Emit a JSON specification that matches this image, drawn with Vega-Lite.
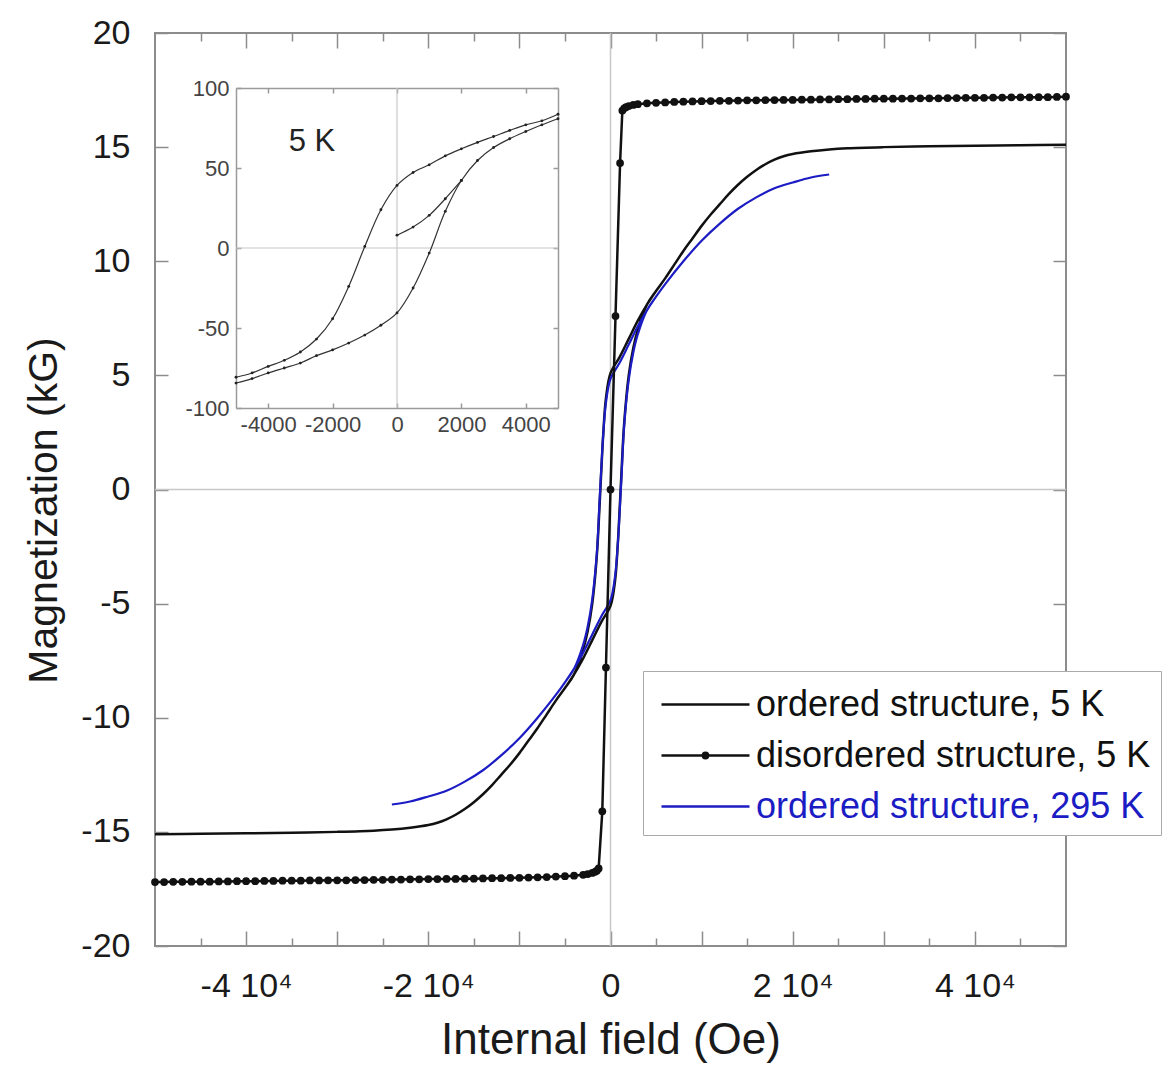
{
 "$schema": "https://vega.github.io/schema/vega-lite/v6.json",
 "width": 911, "height": 913,
 "autosize": {"type": "none"},
 "padding": {"left": 155, "top": 33, "right": 105, "bottom": 119},
 "background": "white",
 "datasets": {
  "main": [
   {"s":"o5","o":0,"x":50000,"y":15.1},{"s":"o5","o":1,"x":45000,"y":15.08},{"s":"o5","o":2,"x":40000,"y":15.06},{"s":"o5","o":3,"x":35000,"y":15.04},{"s":"o5","o":4,"x":30000,"y":15.0},{"s":"o5","o":5,"x":26000,"y":14.95},{"s":"o5","o":6,"x":24000,"y":14.9},{"s":"o5","o":7,"x":22000,"y":14.82},{"s":"o5","o":8,"x":20000,"y":14.7},{"s":"o5","o":9,"x":19000,"y":14.6},{"s":"o5","o":10,"x":18000,"y":14.45},{"s":"o5","o":11,"x":17000,"y":14.25},{"s":"o5","o":12,"x":16000,"y":14.0},{"s":"o5","o":13,"x":15000,"y":13.7},{"s":"o5","o":14,"x":14000,"y":13.35},{"s":"o5","o":15,"x":13000,"y":12.95},{"s":"o5","o":16,"x":12000,"y":12.5},{"s":"o5","o":17,"x":11000,"y":12.05},{"s":"o5","o":18,"x":10000,"y":11.55},{"s":"o5","o":19,"x":9000,"y":11.0},{"s":"o5","o":20,"x":8000,"y":10.45},{"s":"o5","o":21,"x":7000,"y":9.85},{"s":"o5","o":22,"x":6000,"y":9.25},{"s":"o5","o":23,"x":5000,"y":8.7},{"s":"o5","o":24,"x":4000,"y":8.1},{"s":"o5","o":25,"x":3000,"y":7.4},{"s":"o5","o":26,"x":2000,"y":6.6},{"s":"o5","o":27,"x":1000,"y":5.8},{"s":"o5","o":28,"x":0,"y":5.1},{"s":"o5","o":29,"x":-500,"y":4.0},{"s":"o5","o":30,"x":-800,"y":2.4},{"s":"o5","o":31,"x":-1000,"y":0.9},{"s":"o5","o":32,"x":-1200,"y":-0.7},{"s":"o5","o":33,"x":-1500,"y":-2.9},{"s":"o5","o":34,"x":-2000,"y":-5.0},{"s":"o5","o":35,"x":-2500,"y":-6.2},{"s":"o5","o":36,"x":-3000,"y":-7.0},{"s":"o5","o":37,"x":-4000,"y":-8.1},{"s":"o5","o":38,"x":-5000,"y":-8.7},{"s":"o5","o":39,"x":-6000,"y":-9.25},{"s":"o5","o":40,"x":-7000,"y":-9.85},{"s":"o5","o":41,"x":-8000,"y":-10.45},{"s":"o5","o":42,"x":-9000,"y":-11.0},{"s":"o5","o":43,"x":-10000,"y":-11.55},{"s":"o5","o":44,"x":-11000,"y":-12.05},{"s":"o5","o":45,"x":-12000,"y":-12.5},{"s":"o5","o":46,"x":-13000,"y":-12.95},{"s":"o5","o":47,"x":-14000,"y":-13.35},{"s":"o5","o":48,"x":-15000,"y":-13.7},{"s":"o5","o":49,"x":-16000,"y":-14.0},{"s":"o5","o":50,"x":-17000,"y":-14.25},{"s":"o5","o":51,"x":-18000,"y":-14.45},{"s":"o5","o":52,"x":-19000,"y":-14.6},{"s":"o5","o":53,"x":-20000,"y":-14.7},{"s":"o5","o":54,"x":-22000,"y":-14.82},{"s":"o5","o":55,"x":-24000,"y":-14.9},{"s":"o5","o":56,"x":-26000,"y":-14.95},{"s":"o5","o":57,"x":-30000,"y":-15.0},{"s":"o5","o":58,"x":-35000,"y":-15.04},{"s":"o5","o":59,"x":-40000,"y":-15.06},{"s":"o5","o":60,"x":-45000,"y":-15.08},{"s":"o5","o":61,"x":-50000,"y":-15.1},
   {"s":"o5","o":62,"x":-45000,"y":-15.08},{"s":"o5","o":63,"x":-40000,"y":-15.06},{"s":"o5","o":64,"x":-35000,"y":-15.04},{"s":"o5","o":65,"x":-30000,"y":-15.0},{"s":"o5","o":66,"x":-26000,"y":-14.95},{"s":"o5","o":67,"x":-24000,"y":-14.9},{"s":"o5","o":68,"x":-22000,"y":-14.82},{"s":"o5","o":69,"x":-20000,"y":-14.7},{"s":"o5","o":70,"x":-19000,"y":-14.6},{"s":"o5","o":71,"x":-18000,"y":-14.45},{"s":"o5","o":72,"x":-17000,"y":-14.25},{"s":"o5","o":73,"x":-16000,"y":-14.0},{"s":"o5","o":74,"x":-15000,"y":-13.7},{"s":"o5","o":75,"x":-14000,"y":-13.35},{"s":"o5","o":76,"x":-13000,"y":-12.95},{"s":"o5","o":77,"x":-12000,"y":-12.5},{"s":"o5","o":78,"x":-11000,"y":-12.05},{"s":"o5","o":79,"x":-10000,"y":-11.55},{"s":"o5","o":80,"x":-9000,"y":-11.0},{"s":"o5","o":81,"x":-8000,"y":-10.45},{"s":"o5","o":82,"x":-7000,"y":-9.85},{"s":"o5","o":83,"x":-6000,"y":-9.25},{"s":"o5","o":84,"x":-5000,"y":-8.7},{"s":"o5","o":85,"x":-4000,"y":-8.1},{"s":"o5","o":86,"x":-3000,"y":-7.4},{"s":"o5","o":87,"x":-2000,"y":-6.6},{"s":"o5","o":88,"x":-1000,"y":-5.8},{"s":"o5","o":89,"x":0,"y":-5.1},{"s":"o5","o":90,"x":500,"y":-4.0},{"s":"o5","o":91,"x":800,"y":-2.4},{"s":"o5","o":92,"x":1000,"y":-0.9},{"s":"o5","o":93,"x":1200,"y":0.7},{"s":"o5","o":94,"x":1500,"y":2.9},{"s":"o5","o":95,"x":2000,"y":5.0},{"s":"o5","o":96,"x":2500,"y":6.2},{"s":"o5","o":97,"x":3000,"y":7.0},{"s":"o5","o":98,"x":4000,"y":8.1},{"s":"o5","o":99,"x":5000,"y":8.7},{"s":"o5","o":100,"x":6000,"y":9.25},{"s":"o5","o":101,"x":7000,"y":9.85},{"s":"o5","o":102,"x":8000,"y":10.45},{"s":"o5","o":103,"x":9000,"y":11.0},{"s":"o5","o":104,"x":10000,"y":11.55},{"s":"o5","o":105,"x":11000,"y":12.05},{"s":"o5","o":106,"x":12000,"y":12.5},{"s":"o5","o":107,"x":13000,"y":12.95},{"s":"o5","o":108,"x":14000,"y":13.35},{"s":"o5","o":109,"x":15000,"y":13.7},{"s":"o5","o":110,"x":16000,"y":14.0},{"s":"o5","o":111,"x":17000,"y":14.25},{"s":"o5","o":112,"x":18000,"y":14.45},{"s":"o5","o":113,"x":19000,"y":14.6},{"s":"o5","o":114,"x":20000,"y":14.7},{"s":"o5","o":115,"x":22000,"y":14.82},{"s":"o5","o":116,"x":24000,"y":14.9},{"s":"o5","o":117,"x":26000,"y":14.95},{"s":"o5","o":118,"x":30000,"y":15.0},{"s":"o5","o":119,"x":35000,"y":15.04},{"s":"o5","o":120,"x":40000,"y":15.06},{"s":"o5","o":121,"x":45000,"y":15.08},{"s":"o5","o":122,"x":50000,"y":15.1},
   {"s":"o295","o":0,"x":24000,"y":13.8},{"s":"o295","o":1,"x":22000,"y":13.67},{"s":"o295","o":2,"x":20000,"y":13.45},{"s":"o295","o":3,"x":18000,"y":13.2},{"s":"o295","o":4,"x":16000,"y":12.8},{"s":"o295","o":5,"x":14000,"y":12.3},{"s":"o295","o":6,"x":12000,"y":11.65},{"s":"o295","o":7,"x":10000,"y":10.9},{"s":"o295","o":8,"x":8000,"y":10.0},{"s":"o295","o":9,"x":6000,"y":9.0},{"s":"o295","o":10,"x":5000,"y":8.45},{"s":"o295","o":11,"x":4000,"y":7.85},{"s":"o295","o":12,"x":3000,"y":7.15},{"s":"o295","o":13,"x":2000,"y":6.35},{"s":"o295","o":14,"x":1000,"y":5.55},{"s":"o295","o":15,"x":0,"y":4.85},{"s":"o295","o":16,"x":-500,"y":3.8},{"s":"o295","o":17,"x":-800,"y":2.4},{"s":"o295","o":18,"x":-1000,"y":1.0},{"s":"o295","o":19,"x":-1200,"y":-0.5},{"s":"o295","o":20,"x":-1500,"y":-2.8},{"s":"o295","o":21,"x":-2000,"y":-4.8},{"s":"o295","o":22,"x":-2500,"y":-6.0},{"s":"o295","o":23,"x":-3000,"y":-6.8},{"s":"o295","o":24,"x":-4000,"y":-7.85},{"s":"o295","o":25,"x":-5000,"y":-8.45},{"s":"o295","o":26,"x":-6000,"y":-9.0},{"s":"o295","o":27,"x":-8000,"y":-10.0},{"s":"o295","o":28,"x":-10000,"y":-10.9},{"s":"o295","o":29,"x":-12000,"y":-11.65},{"s":"o295","o":30,"x":-14000,"y":-12.3},{"s":"o295","o":31,"x":-16000,"y":-12.8},{"s":"o295","o":32,"x":-18000,"y":-13.2},{"s":"o295","o":33,"x":-20000,"y":-13.45},{"s":"o295","o":34,"x":-22000,"y":-13.67},{"s":"o295","o":35,"x":-24000,"y":-13.8},
   {"s":"o295","o":36,"x":-22000,"y":-13.67},{"s":"o295","o":37,"x":-20000,"y":-13.45},{"s":"o295","o":38,"x":-18000,"y":-13.2},{"s":"o295","o":39,"x":-16000,"y":-12.8},{"s":"o295","o":40,"x":-14000,"y":-12.3},{"s":"o295","o":41,"x":-12000,"y":-11.65},{"s":"o295","o":42,"x":-10000,"y":-10.9},{"s":"o295","o":43,"x":-8000,"y":-10.0},{"s":"o295","o":44,"x":-6000,"y":-9.0},{"s":"o295","o":45,"x":-5000,"y":-8.45},{"s":"o295","o":46,"x":-4000,"y":-7.85},{"s":"o295","o":47,"x":-3000,"y":-7.15},{"s":"o295","o":48,"x":-2000,"y":-6.35},{"s":"o295","o":49,"x":-1000,"y":-5.55},{"s":"o295","o":50,"x":0,"y":-4.85},{"s":"o295","o":51,"x":500,"y":-3.8},{"s":"o295","o":52,"x":800,"y":-2.4},{"s":"o295","o":53,"x":1000,"y":-1.0},{"s":"o295","o":54,"x":1200,"y":0.5},{"s":"o295","o":55,"x":1500,"y":2.8},{"s":"o295","o":56,"x":2000,"y":4.8},{"s":"o295","o":57,"x":2500,"y":6.0},{"s":"o295","o":58,"x":3000,"y":6.8},{"s":"o295","o":59,"x":4000,"y":7.85},{"s":"o295","o":60,"x":5000,"y":8.45},{"s":"o295","o":61,"x":6000,"y":9.0},{"s":"o295","o":62,"x":8000,"y":10.0},{"s":"o295","o":63,"x":10000,"y":10.9},{"s":"o295","o":64,"x":12000,"y":11.65},{"s":"o295","o":65,"x":14000,"y":12.3},{"s":"o295","o":66,"x":16000,"y":12.8},{"s":"o295","o":67,"x":18000,"y":13.2},{"s":"o295","o":68,"x":20000,"y":13.45},{"s":"o295","o":69,"x":22000,"y":13.67},{"s":"o295","o":70,"x":24000,"y":13.8},
   {"s":"d5","x":-50000,"y":-17.2},{"s":"d5","x":-49000,"y":-17.2},{"s":"d5","x":-48000,"y":-17.19},{"s":"d5","x":-47000,"y":-17.19},{"s":"d5","x":-46000,"y":-17.18},{"s":"d5","x":-45000,"y":-17.18},{"s":"d5","x":-44000,"y":-17.18},{"s":"d5","x":-43000,"y":-17.17},{"s":"d5","x":-42000,"y":-17.17},{"s":"d5","x":-41000,"y":-17.16},{"s":"d5","x":-40000,"y":-17.16},{"s":"d5","x":-39000,"y":-17.16},{"s":"d5","x":-38000,"y":-17.15},{"s":"d5","x":-37000,"y":-17.15},{"s":"d5","x":-36000,"y":-17.14},{"s":"d5","x":-35000,"y":-17.14},{"s":"d5","x":-34000,"y":-17.14},{"s":"d5","x":-33000,"y":-17.13},{"s":"d5","x":-32000,"y":-17.13},{"s":"d5","x":-31000,"y":-17.12},{"s":"d5","x":-30000,"y":-17.12},{"s":"d5","x":-29000,"y":-17.12},{"s":"d5","x":-28000,"y":-17.11},{"s":"d5","x":-27000,"y":-17.11},{"s":"d5","x":-26000,"y":-17.1},{"s":"d5","x":-25000,"y":-17.1},{"s":"d5","x":-24000,"y":-17.09},{"s":"d5","x":-23000,"y":-17.09},{"s":"d5","x":-22000,"y":-17.08},{"s":"d5","x":-21000,"y":-17.08},{"s":"d5","x":-20000,"y":-17.07},{"s":"d5","x":-19000,"y":-17.07},{"s":"d5","x":-18000,"y":-17.06},{"s":"d5","x":-17000,"y":-17.06},{"s":"d5","x":-16000,"y":-17.05},{"s":"d5","x":-15000,"y":-17.05},{"s":"d5","x":-14000,"y":-17.04},{"s":"d5","x":-13000,"y":-17.03},{"s":"d5","x":-12000,"y":-17.03},{"s":"d5","x":-11000,"y":-17.02},{"s":"d5","x":-10000,"y":-17.01},{"s":"d5","x":-9000,"y":-17.0},{"s":"d5","x":-8000,"y":-16.99},{"s":"d5","x":-7000,"y":-16.98},{"s":"d5","x":-6000,"y":-16.96},{"s":"d5","x":-5000,"y":-16.94},{"s":"d5","x":-4000,"y":-16.92},{"s":"d5","x":-3000,"y":-16.88},{"s":"d5","x":-2500,"y":-16.85},{"s":"d5","x":-2000,"y":-16.8},{"s":"d5","x":-1700,"y":-16.75},{"s":"d5","x":-1500,"y":-16.7},{"s":"d5","x":-1300,"y":-16.6},{"s":"d5","x":-900,"y":-14.1},{"s":"d5","x":-500,"y":-7.8},{"s":"d5","x":0,"y":0},{"s":"d5","x":550,"y":7.6},{"s":"d5","x":1050,"y":14.3},{"s":"d5","x":1300,"y":16.6},{"s":"d5","x":1500,"y":16.7},{"s":"d5","x":1700,"y":16.75},{"s":"d5","x":2000,"y":16.8},{"s":"d5","x":2500,"y":16.85},{"s":"d5","x":3000,"y":16.88},{"s":"d5","x":4000,"y":16.92},{"s":"d5","x":5000,"y":16.94},{"s":"d5","x":6000,"y":16.96},{"s":"d5","x":7000,"y":16.98},{"s":"d5","x":8000,"y":16.99},{"s":"d5","x":9000,"y":17.0},{"s":"d5","x":10000,"y":17.01},{"s":"d5","x":11000,"y":17.02},{"s":"d5","x":12000,"y":17.03},{"s":"d5","x":13000,"y":17.03},{"s":"d5","x":14000,"y":17.04},{"s":"d5","x":15000,"y":17.05},{"s":"d5","x":16000,"y":17.05},{"s":"d5","x":17000,"y":17.06},{"s":"d5","x":18000,"y":17.06},{"s":"d5","x":19000,"y":17.07},{"s":"d5","x":20000,"y":17.07},{"s":"d5","x":21000,"y":17.08},{"s":"d5","x":22000,"y":17.08},{"s":"d5","x":23000,"y":17.09},{"s":"d5","x":24000,"y":17.09},{"s":"d5","x":25000,"y":17.1},{"s":"d5","x":26000,"y":17.1},{"s":"d5","x":27000,"y":17.11},{"s":"d5","x":28000,"y":17.11},{"s":"d5","x":29000,"y":17.12},{"s":"d5","x":30000,"y":17.12},{"s":"d5","x":31000,"y":17.12},{"s":"d5","x":32000,"y":17.13},{"s":"d5","x":33000,"y":17.13},{"s":"d5","x":34000,"y":17.14},{"s":"d5","x":35000,"y":17.14},{"s":"d5","x":36000,"y":17.14},{"s":"d5","x":37000,"y":17.15},{"s":"d5","x":38000,"y":17.15},{"s":"d5","x":39000,"y":17.16},{"s":"d5","x":40000,"y":17.16},{"s":"d5","x":41000,"y":17.16},{"s":"d5","x":42000,"y":17.17},{"s":"d5","x":43000,"y":17.17},{"s":"d5","x":44000,"y":17.18},{"s":"d5","x":45000,"y":17.18},{"s":"d5","x":46000,"y":17.18},{"s":"d5","x":47000,"y":17.19},{"s":"d5","x":48000,"y":17.19},{"s":"d5","x":49000,"y":17.2},{"s":"d5","x":50000,"y":17.21}
  ],
  "inset": [
   {"b":"v","o":0,"x":0,"y":8},{"b":"v","o":1,"x":500,"y":13.1},{"b":"v","o":2,"x":1000,"y":20.4},{"b":"v","o":3,"x":1500,"y":30.8},{"b":"v","o":4,"x":2000,"y":42.2},
   {"b":"d","o":0,"x":5000,"y":83.6},{"b":"d","o":1,"x":4500,"y":79.5},{"b":"d","o":2,"x":4000,"y":77.0},{"b":"d","o":3,"x":3500,"y":73.5},{"b":"d","o":4,"x":3000,"y":69.7},{"b":"d","o":5,"x":2500,"y":66.0},{"b":"d","o":6,"x":2000,"y":62.0},{"b":"d","o":7,"x":1500,"y":57.6},{"b":"d","o":8,"x":1000,"y":52.0},{"b":"d","o":9,"x":500,"y":47.2},{"b":"d","o":10,"x":0,"y":39.1},{"b":"d","o":11,"x":-500,"y":23.9},{"b":"d","o":12,"x":-1000,"y":1.0},{"b":"d","o":13,"x":-1500,"y":-24.0},{"b":"d","o":14,"x":-2000,"y":-44.2},{"b":"d","o":15,"x":-2500,"y":-56.9},{"b":"d","o":16,"x":-3000,"y":-65.0},{"b":"d","o":17,"x":-3500,"y":-70.2},{"b":"d","o":18,"x":-4000,"y":-74.0},{"b":"d","o":19,"x":-4500,"y":-78.1},{"b":"d","o":20,"x":-5000,"y":-80.8},
   {"b":"a","o":0,"x":-5000,"y":-84.4},{"b":"a","o":1,"x":-4500,"y":-81.6},{"b":"a","o":2,"x":-4000,"y":-78.1},{"b":"a","o":3,"x":-3500,"y":-75.0},{"b":"a","o":4,"x":-3000,"y":-71.9},{"b":"a","o":5,"x":-2500,"y":-67.3},{"b":"a","o":6,"x":-2000,"y":-63.7},{"b":"a","o":7,"x":-1500,"y":-59.4},{"b":"a","o":8,"x":-1000,"y":-54.4},{"b":"a","o":9,"x":-500,"y":-48.3},{"b":"a","o":10,"x":0,"y":-40.6},{"b":"a","o":11,"x":500,"y":-25.0},{"b":"a","o":12,"x":1000,"y":-3.2},{"b":"a","o":13,"x":1500,"y":22.9},{"b":"a","o":14,"x":2000,"y":42.2},{"b":"a","o":15,"x":2500,"y":54.7},{"b":"a","o":16,"x":3000,"y":62.8},{"b":"a","o":17,"x":3500,"y":68.3},{"b":"a","o":18,"x":4000,"y":72.8},{"b":"a","o":19,"x":4500,"y":77.0},{"b":"a","o":20,"x":5000,"y":80.8}
  ]
 },
 "layer": [
  {
   "layer": [
    {"data": {"values": [{}]}, "mark": {"type": "rule", "color": "#c8c8c8", "strokeWidth": 1.5},
     "encoding": {"x": {"datum": 0, "type": "quantitative", "axis": null, "scale": {"domain": [-50000, 50000], "nice": false, "zero": false}}}},
    {"data": {"values": [{}]}, "mark": {"type": "rule", "color": "#c8c8c8", "strokeWidth": 1.5},
     "encoding": {"y": {"datum": 0, "type": "quantitative", "axis": null, "scale": {"domain": [-20, 20], "nice": false, "zero": false}}}},
    {"data": {"name": "main"}, "transform": [{"filter": "datum.s == 'o5'"}],
     "mark": {"type": "line", "color": "#111111", "strokeWidth": 2.5, "interpolate": "catmull-rom"},
     "encoding": {
      "x": {"field": "x", "type": "quantitative", "scale": {"domain": [-50000, 50000], "nice": false, "zero": false},
            "axis": {"orient": "bottom", "values": [-40000, -30000, -20000, -10000, 0, 10000, 20000, 30000, 40000], "tickSize": -15,
                     "labelExpr": "datum.value == 0 ? '0' : (datum.value % 20000 == 0 ? (datum.value / 10000) + ' 10⁴' : '')",
                     "labelFontSize": 34, "labelPadding": 38, "title": "Internal field (Oe)", "titleFontSize": 44, "titlePadding": 15}},
      "y": {"field": "y", "type": "quantitative", "scale": {"domain": [-20, 20], "nice": false, "zero": false},
            "axis": {"orient": "left", "values": [-20, -15, -10, -5, 0, 5, 10, 15, 20], "tickSize": -13, "labelExpr": "datum.value + ''",
                     "labelFontSize": 34, "labelPadding": 38, "title": "Magnetization (kG)", "titleFontSize": 41, "titlePadding": 15, "titleY": 477}},
      "order": {"field": "o", "type": "quantitative"}}},
    {"data": {"name": "main"}, "transform": [{"filter": "datum.s == 'o295'"}],
     "mark": {"type": "line", "color": "#1c1cc4", "strokeWidth": 2.2, "interpolate": "catmull-rom"},
     "encoding": {
      "x": {"field": "x", "type": "quantitative", "axis": {"orient": "top", "values": [-40000, -30000, -20000, -10000, 0, 10000, 20000, 30000, 40000], "tickSize": -15, "labels": false, "title": null}},
      "y": {"field": "y", "type": "quantitative", "axis": {"orient": "right", "values": [-20, -15, -10, -5, 0, 5, 10, 15, 20], "tickSize": -13, "labels": false, "title": null}},
      "order": {"field": "o", "type": "quantitative"}}},
    {"data": {"name": "main"}, "transform": [{"filter": "datum.s == 'd5'"}],
     "mark": {"type": "line", "color": "#111111", "strokeWidth": 2.5},
     "encoding": {
      "x": {"field": "x", "type": "quantitative", "axis": {"orient": "bottom", "values": [-45000, -35000, -25000, -15000, -5000, 5000, 15000, 25000, 35000, 45000], "tickSize": -8, "labels": false, "title": null}},
      "y": {"field": "y", "type": "quantitative", "axis": null}}},
    {"data": {"name": "main"}, "transform": [{"filter": "datum.s == 'd5'"}],
     "mark": {"type": "point", "filled": true, "color": "#111111", "size": 60, "opacity": 1},
     "encoding": {
      "x": {"field": "x", "type": "quantitative", "axis": {"orient": "top", "values": [-45000, -35000, -25000, -15000, -5000, 5000, 15000, 25000, 35000, 45000], "tickSize": -8, "labels": false, "title": null}},
      "y": {"field": "y", "type": "quantitative", "axis": null}}},
    {"data": {"name": "main"}, "transform": [{"filter": "false"}],
     "mark": {"type": "point", "filled": false, "strokeWidth": 2.5, "opacity": 1},
     "encoding": {
      "color": {"field": "s", "type": "nominal",
                "scale": {"domain": ["ordered structure, 5 K", "disordered structure, 5 K", "ordered structure, 295 K"], "range": ["#111111", "#111111", "#1c1cc4"]},
                "legend": {"orient": "none", "legendX": 488, "legendY": 638, "title": null, "symbolSize": 1936, "symbolStrokeWidth": 2.5,
                           "labelFontSize": 36, "labelLimit": 0, "labelOffset": 56, "rowPadding": 9, "padding": 10,
                           "strokeColor": "#aaaaaa", "fillColor": "white",
                           "labelColor": {"expr": "datum.label == 'ordered structure, 295 K' ? '#1c1cc4' : '#111111'"}}},
      "shape": {"field": "s", "type": "nominal",
                "scale": {"domain": ["ordered structure, 5 K", "disordered structure, 5 K", "ordered structure, 295 K"],
                          "range": ["M-0.682,0H3.318", "M-0.682,0H3.318M1.198,0A0.12,0.12,0,1,0,1.438,0A0.12,0.12,0,1,0,1.198,0M1.258,0A0.06,0.06,0,1,0,1.378,0A0.06,0.06,0,1,0,1.258,0", "M-0.682,0H3.318"]}}}}
   ],
   "resolve": {"axis": {"x": "independent", "y": "independent"}}
  },
  {
   "layer": [
    {"data": {"values": [{}]}, "mark": {"type": "rule", "color": "#c8c8c8", "strokeWidth": 1.2},
     "encoding": {"x": {"datum": 0, "type": "quantitative", "axis": null, "scale": {"domain": [-5000, 5000], "range": [81, 403], "nice": false, "zero": false}},
                  "y": {"datum": -100, "type": "quantitative", "axis": null, "scale": {"domain": [-100, 100], "range": [375, 55], "nice": false, "zero": false}},
                  "y2": {"datum": 100}}},
    {"data": {"values": [{}]}, "mark": {"type": "rule", "color": "#c8c8c8", "strokeWidth": 1.2},
     "encoding": {"y": {"datum": 0, "type": "quantitative", "axis": null},
                  "x": {"datum": -5000, "type": "quantitative", "axis": null}, "x2": {"datum": 5000}}},
    {"data": {"name": "inset"},
     "mark": {"type": "line", "color": "#333333", "strokeWidth": 1.2, "interpolate": "catmull-rom"},
     "encoding": {
      "x": {"field": "x", "type": "quantitative", "scale": {"domain": [-5000, 5000], "range": [81, 403], "nice": false, "zero": false},
            "axis": {"orient": "bottom", "offset": -538, "values": [-4000, -2000, 0, 2000, 4000], "tickSize": -5, "domain": true, "domainColor": "#9a9a9a", "domainWidth": 1.5,
                     "tickColor": "#9a9a9a", "labelFontSize": 22, "labelColor": "#444444", "labelPadding": 11, "labelExpr": "datum.value + ''", "title": null}},
      "y": {"field": "y", "type": "quantitative", "scale": {"domain": [-100, 100], "range": [375, 55], "nice": false, "zero": false},
            "axis": {"orient": "left", "offset": -81, "values": [-100, -50, 0, 50, 100], "tickSize": -5, "domain": true, "domainColor": "#9a9a9a", "domainWidth": 1.5,
                     "tickColor": "#9a9a9a", "labelFontSize": 22, "labelColor": "#444444", "labelPadding": 12, "labelExpr": "datum.value + ''", "title": null}},
      "detail": {"field": "b", "type": "nominal"},
      "order": {"field": "o", "type": "quantitative"}}},
    {"data": {"name": "inset"},
     "mark": {"type": "point", "filled": true, "color": "#222222", "size": 8, "opacity": 1},
     "encoding": {
      "x": {"field": "x", "type": "quantitative",
            "axis": {"orient": "top", "offset": -55, "values": [-4000, -2000, 0, 2000, 4000], "tickSize": -5, "domain": true, "domainColor": "#9a9a9a", "domainWidth": 1.5,
                     "tickColor": "#9a9a9a", "labels": false, "title": null}},
      "y": {"field": "y", "type": "quantitative",
            "axis": {"orient": "right", "offset": -508, "values": [-100, -50, 0, 50, 100], "tickSize": -5, "domain": true, "domainColor": "#9a9a9a", "domainWidth": 1.5,
                     "tickColor": "#9a9a9a", "labels": false, "title": null}}}},
    {"data": {"values": [{}]}, "mark": {"type": "text", "fontSize": 31, "color": "#222222"},
     "encoding": {"x": {"datum": -2640, "type": "quantitative", "axis": null},
                  "y": {"datum": 66, "type": "quantitative", "axis": null},
                  "text": {"value": "5 K"}}}
   ],
   "resolve": {"axis": {"x": "independent", "y": "independent"}}
  }
 ],
 "resolve": {"scale": {"x": "independent", "y": "independent"}},
 "config": {
  "font": "Liberation Sans",
  "view": {"stroke": "#8c8c8c", "strokeWidth": 2},
  "axis": {"grid": false, "domain": false, "labelFont": "Liberation Sans", "titleFont": "Liberation Sans", "titleFontWeight": "normal",
           "tickColor": "#8c8c8c", "tickWidth": 1.5, "labelColor": "#1a1a1a", "titleColor": "#1a1a1a", "labelOverlap": false, "labelFlush": false},
  "legend": {"labelFont": "Liberation Sans"}
 }
}
